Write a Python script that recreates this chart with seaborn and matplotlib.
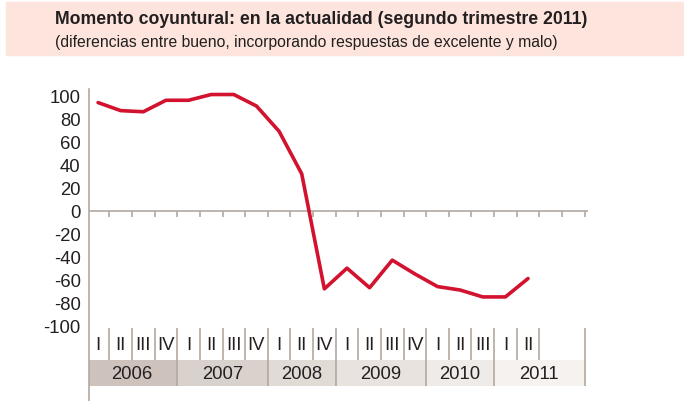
import matplotlib
matplotlib.use("Agg")
import matplotlib.pyplot as plt
from matplotlib.patches import Rectangle
import seaborn as sns
import pandas as pd

sns.set_style("white")
plt.rcParams['font.family'] = ['Liberation Sans', 'DejaVu Sans']
plt.rcParams['axes.unicode_minus'] = False

title = "Momento coyuntural: en la actualidad (segundo trimestre 2011)"
subtitle = "(diferencias entre bueno, incorporando respuestas de excelente y malo)"

quarter_labels = ["I", "II", "III", "IV", "I", "II", "III", "IV", "I", "II", "IV",
                  "I", "II", "III", "IV", "I", "II", "III", "I", "II"]
year_labels = ["2006", "2007", "2008", "2009", "2010", "2011"]
year_slots = [4, 4, 3, 4, 3, 4]
year_colors = ["#cdc3bc", "#d9d1cb", "#e1dbd6", "#e8e3df", "#efebe8", "#f5f2f0"]
values = [94, 87, 86, 96, 96, 101, 101, 91, 69, 32, -68, -50, -67, -43, -55,
          -66, -69, -75, -75, -59]

df = pd.DataFrame({"pos": [i + 0.5 for i in range(len(values))], "value": values})

W, H = 684, 402
fig = plt.figure(figsize=(W / 100, H / 100), dpi=100)

# header band
fig.patches.append(Rectangle((6 / W, 1 - 56 / H), (W - 6) / W, 53 / H,
                             transform=fig.transFigure, color="#fde5dd", zorder=0))
text_color = "#231f20"
fig.text(55 / W, 1 - 20 / H, title, fontsize=12.7, fontweight="bold", color=text_color,
         va="center", ha="left")
fig.text(55 / W, 1 - 43 / H, subtitle, fontsize=11.3, color=text_color, va="center", ha="left")

ax = fig.add_axes([89 / W, 0, 499 / W, (H - 90) / H])
axis_color = "#b3a89f"
label_size = 13.3

sns.lineplot(data=df, x="pos", y="value", ax=ax, color="#d2122e", lw=2.6, zorder=5)

ax.set_xlim(0.1, 22.15)
ax.set_ylim(-165.5, 105.8)
for s in ["top", "right", "bottom"]:
    ax.spines[s].set_visible(False)
ax.spines["left"].set_color(axis_color)
ax.spines["left"].set_linewidth(1.2)
ax.set_xticks([])
ax.set_yticks(list(range(-100, 101, 20)))
ax.tick_params(axis="y", direction="out", length=4, width=1.2, color=axis_color,
               labelsize=label_size, labelcolor=text_color, pad=2)
ax.set_xlabel("")
ax.set_ylabel("")

# zero line with ticks
total_slots = sum(year_slots)
ax.plot([0.1, 22.15], [0, 0], color=axis_color, lw=1.2, zorder=2)
ax.vlines(list(range(1, total_slots + 1)), -5.2, 0, color=axis_color, lw=1.2, zorder=2)

# year bands
start = 0
year_bounds = []
for lab, n, c in zip(year_labels, year_slots, year_colors):
    ax.add_patch(Rectangle((start, -152.5), n, 22.7, color=c, lw=0, zorder=1))
    ax.text(start + n / 2, -141.2, lab, ha="center", va="center", fontsize=label_size,
            color=text_color)
    start += n
    year_bounds.append(start)

# quarter labels and separators
for i, q in enumerate(quarter_labels):
    ax.text(i + 0.5, -116, q, ha="center", va="center", fontsize=label_size, color=text_color)
q_seps = [b for b in range(1, len(quarter_labels) + 1) if b not in year_bounds]
ax.vlines(q_seps, -129.8, -102.3, color=axis_color, lw=1.2, zorder=3)
ax.vlines(year_bounds, -152.5, -102.3, color=axis_color, lw=1.2, zorder=3)

fig.savefig("out.png", dpi=100)
